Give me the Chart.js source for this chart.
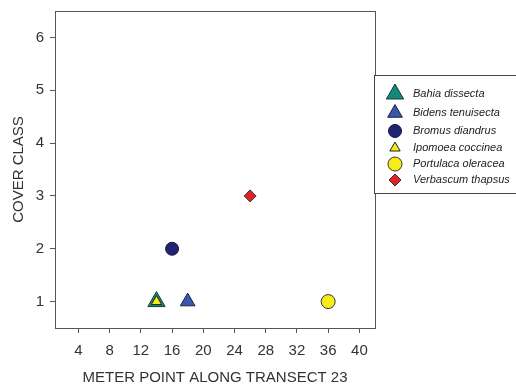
<!DOCTYPE html>
<html>
<head>
<meta charset="utf-8">
<script src="https://cdn.jsdelivr.net/npm/chart.js@4"></script>
<style>
  html, body { margin: 0; padding: 0; background: #fff; }
  #wrap { width: 516px; height: 389px; }
</style>
</head>
<body>
<div id="wrap"><canvas id="chart" width="516" height="389"></canvas></div>
<script>
// species and their points (meter point, cover class)
const species = ['Bahia dissecta', 'Bidens tenuisecta', 'Bromus diandrus', 'Ipomoea coccinea', 'Portulaca oleracea', 'Verbascum thapsus'];
const meterPoints = [14, 18, 16, 14, 36, 26];
const coverClass = [1, 1, 2, 1, 1, 3];
const xTicks = [4, 8, 12, 16, 20, 24, 28, 32, 36, 40];
const yTicks = [1, 2, 3, 4, 5, 6];

const markers = [
  { style: 'triangle', r: 10, fill: '#13877b', line: '#1d3b36' },
  { style: 'triangle', r: 8.5, fill: '#3a57a8', line: '#1c2448' },
  { style: 'circle', r: 6.5, fill: '#1f2370', line: '#15173c' },
  { style: 'triangle', r: 6, fill: '#f4ea18', line: '#222' },
  { style: 'circle', r: 7, fill: '#f6ec17', line: '#333' },
  { style: 'rectRot', r: 6, fill: '#e4202a', line: '#333' }
];

const datasets = species.map((name, i) => ({
  label: name,
  data: [{ x: meterPoints[i], y: coverClass[i] }],
  order: name === 'Ipomoea coccinea' ? -1 : i, // small yellow triangle sits on top of Bahia
  pointStyle: markers[i].style,
  pointRadius: markers[i].r,
  pointBackgroundColor: markers[i].fill,
  pointBorderColor: markers[i].line,
  pointBorderWidth: 1
}));

const textColor = '#333';
const font = { family: 'Arial, "Liberation Sans", sans-serif', size: 15 };

// box round the plot and the legend box on the right
const framePlugin = {
  id: 'frame',
  afterDraw(chart) {
    const ctx = chart.ctx;
    const a = chart.chartArea;
    ctx.save();
    ctx.strokeStyle = '#555';
    ctx.lineWidth = 1;
    ctx.strokeRect(Math.round(a.left) + 0.5, Math.round(a.top) + 0.5, Math.round(a.right - a.left), Math.round(a.bottom - a.top));

    // legend
    const lx = 374.5, ly = 75.5, lw = 150, lh = 118;
    ctx.fillStyle = '#fff';
    ctx.fillRect(lx, ly, lw, lh);
    ctx.strokeStyle = '#444';
    ctx.strokeRect(lx, ly, lw, lh);
    const rows = [94, 113, 131, 148, 164, 180];
    ctx.font = 'italic 11px Arial, "Liberation Sans", sans-serif';
    ctx.textBaseline = 'middle';
    species.forEach((name, i) => {
      const m = markers[i];
      ctx.fillStyle = m.fill;
      ctx.strokeStyle = m.line;
      ctx.lineWidth = 1;
      Chart.helpers.drawPoint(ctx, { pointStyle: m.style, radius: m.r, borderWidth: 1, rotation: 0 }, 395, rows[i]);
      ctx.fillStyle = '#222';
      ctx.fillText(name, 413, rows[i]);
    });
    ctx.restore();
  }
};

new Chart(document.getElementById('chart'), {
  type: 'scatter',
  data: { datasets },
  options: {
    responsive: false,
    animation: false,
    layout: { padding: { top: 10, right: 141, left: 0, bottom: 0 } },
    plugins: { legend: { display: false }, tooltip: { enabled: false } },
    scales: {
      x: {
        type: 'linear',
        min: 1,
        max: 42,
        afterBuildTicks: (s) => { s.ticks = xTicks.map(v => ({ value: v })); },
        afterFit: (s) => { s.height = 61; s.paddingLeft = 0; s.paddingRight = 0; },
        grid: { drawOnChartArea: false, tickLength: 5, tickColor: '#555' },
        border: { color: '#555' },
        ticks: { color: textColor, font, padding: 9, maxRotation: 0, autoSkip: false },
        title: { display: true, text: 'METER POINT ALONG TRANSECT 23', color: textColor, font, padding: { top: 4, bottom: 2 } }
      },
      y: {
        type: 'linear',
        min: 0.5,
        max: 6.5,
        afterBuildTicks: (s) => { s.ticks = yTicks.map(v => ({ value: v })); },
        afterFit: (s) => { s.width = 55; s.paddingTop = 0; s.paddingBottom = 0; },
        grid: { drawOnChartArea: false, tickLength: 5, tickColor: '#555' },
        border: { color: '#555' },
        ticks: { color: textColor, font, padding: 6 },
        title: { display: true, text: 'COVER CLASS', color: textColor, font, padding: { top: 10, bottom: 0 } }
      }
    }
  },
  plugins: [framePlugin]
});
</script>
</body>
</html>
